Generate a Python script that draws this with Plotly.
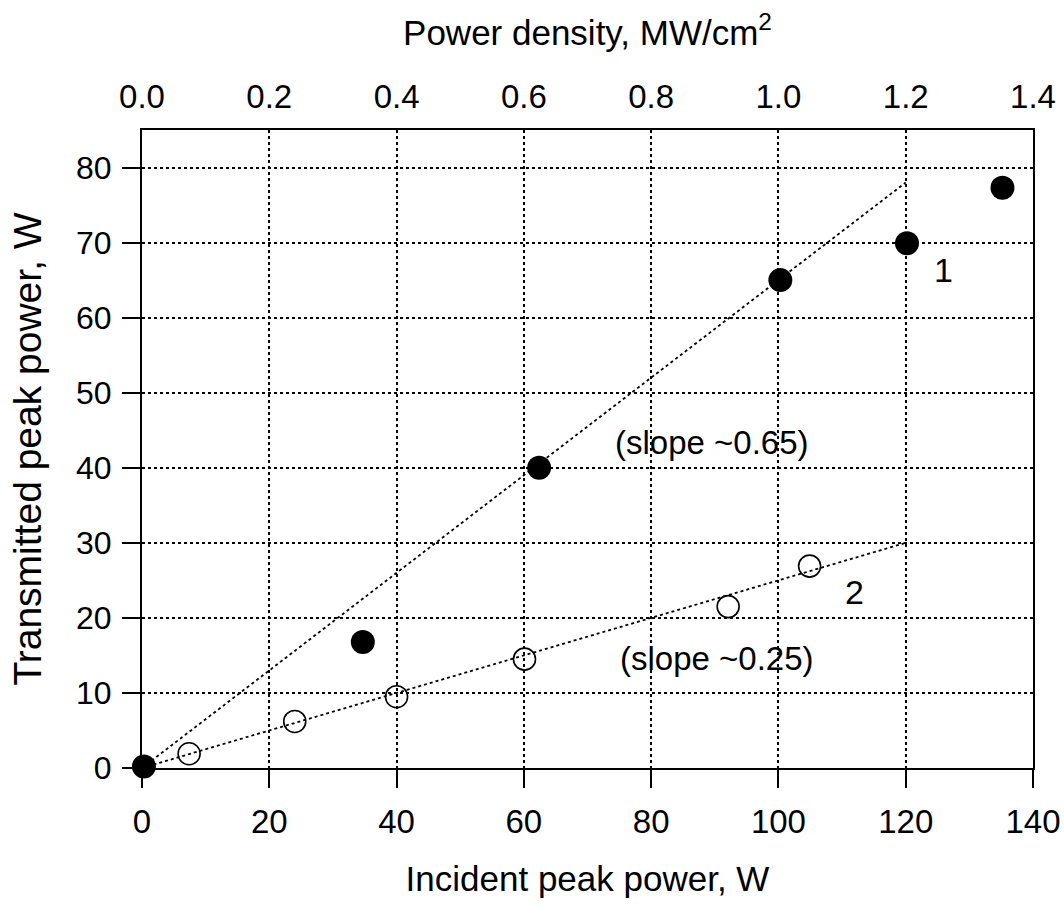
import plotly.graph_objects as go

# Series 1 (filled circles)
s1_x = [0.3, 34.7, 62.4, 100.3, 120.2, 135.2]
s1_y = [0.2, 16.8, 40.0, 65.0, 69.9, 77.3]
# Series 2 (open circles)
s2_x = [7.4, 24.0, 40.0, 60.1, 92.1, 104.9]
s2_y = [1.9, 6.2, 9.5, 14.5, 21.5, 26.9]
# Fit lines
fit1_x = [0, 120]
fit1_slope = 0.65
fit2_x = [0, 120]
fit2_slope = 0.25

x_ticks = [0, 20, 40, 60, 80, 100, 120, 140]
y_ticks = [0, 10, 20, 30, 40, 50, 60, 70, 80]
top_ticks = [0.0, 0.2, 0.4, 0.6, 0.8, 1.0, 1.2, 1.4]

FONT = "Liberation Sans, Arial, sans-serif"

fig = go.Figure()
fig.add_trace(go.Scatter(x=fit1_x, y=[v * fit1_slope for v in fit1_x], mode="lines",
                         line=dict(color="black", width=1.8, dash="dot"), showlegend=False))
fig.add_trace(go.Scatter(x=fit2_x, y=[v * fit2_slope for v in fit2_x], mode="lines",
                         line=dict(color="black", width=1.8, dash="dot"), showlegend=False))
fig.add_trace(go.Scatter(x=s2_x, y=s2_y, mode="markers",
                         marker=dict(symbol="circle-open", size=22, color="black", line=dict(width=1.6)),
                         showlegend=False, cliponaxis=False))
fig.add_trace(go.Scatter(x=s1_x, y=s1_y, mode="markers",
                         marker=dict(symbol="circle", size=24, color="black"),
                         showlegend=False, cliponaxis=False))
# invisible trace to activate top axis
fig.add_trace(go.Scatter(x=[0, 1.4], y=[0, 0], xaxis="x2", mode="markers",
                         marker=dict(opacity=0), showlegend=False, hoverinfo="skip"))

annots = [
    dict(x=89.6, y=43.4, text="(slope ~0.65)", size=33),
    dict(x=90.4, y=14.6, text="(slope ~0.25)", size=33),
    dict(x=125.9, y=66.4, text="1", size=34),
    dict(x=111.9, y=23.5, text="2", size=34),
]
for a in annots:
    fig.add_annotation(x=a["x"], y=a["y"], text=a["text"], showarrow=False,
                       font=dict(family=FONT, size=a["size"], color="black"))

fig.update_layout(
    width=1064, height=908,
    margin=dict(l=142, r=31, t=130, b=140, autoexpand=False),
    paper_bgcolor="white", plot_bgcolor="white",
    font=dict(family=FONT, size=32, color="black"),
    xaxis=dict(range=[0, 140], tickvals=x_ticks, ticks="outside", ticklen=18, tickwidth=2,
               tickcolor="black", showline=True, linecolor="black", linewidth=2, mirror=True,
               showgrid=True, gridcolor="black", griddash="dot", gridwidth=1.5,
               zeroline=False, ticklabelstandoff=5, automargin=False,
               tickfont=dict(family=FONT, size=33),
               title=dict(text="Incident peak power, W", standoff=28,
                          font=dict(family=FONT, size=35))),
    yaxis=dict(range=[0, 85], tickvals=y_ticks, ticks="outside", ticklen=18, tickwidth=2,
               tickcolor="black", showline=True, linecolor="black", linewidth=2, mirror=True,
               showgrid=True, gridcolor="black", griddash="dot", gridwidth=1.5,
               zeroline=False, ticklabelstandoff=4, automargin=False,
               tickfont=dict(family=FONT, size=32),
               title=dict(text="Transmitted peak power, W", standoff=22,
                          font=dict(family=FONT, size=39))),
    xaxis2=dict(range=[0, 1.4], tickvals=top_ticks, tickformat=".1f", overlaying="x", side="top",
                ticks="", showgrid=False, showline=False, zeroline=False, ticklabelstandoff=14,
                automargin=False, tickfont=dict(family=FONT, size=33),
                title=dict(text="Power density, MW/cm<sup>2</sup>", standoff=22,
                           font=dict(family=FONT, size=35))),
)

fig.write_html("out.html")
